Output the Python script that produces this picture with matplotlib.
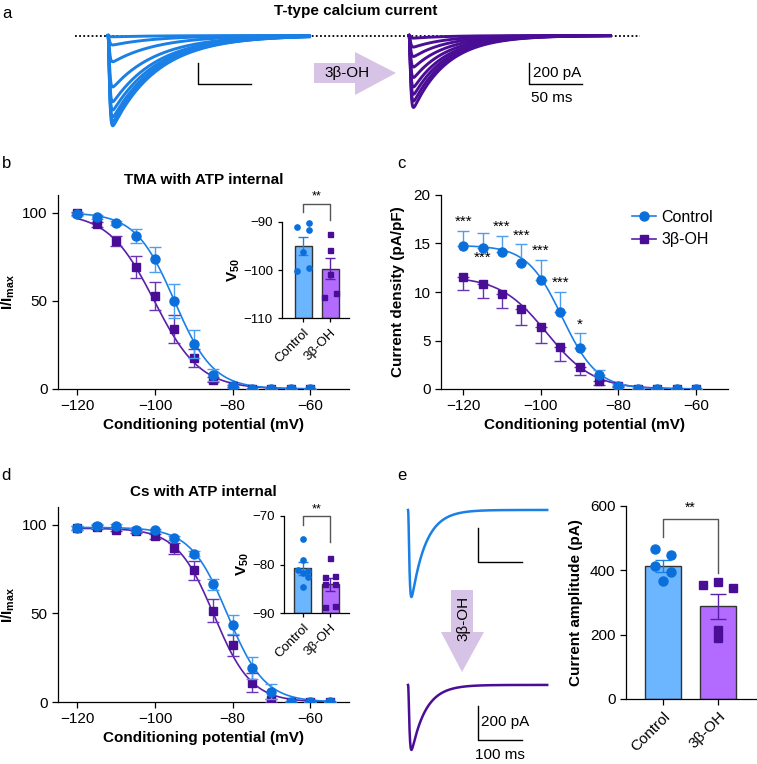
import numpy as np
import matplotlib
matplotlib.use('Agg')
import matplotlib.pyplot as plt
from matplotlib.patches import Polygon
from matplotlib.lines import Line2D

plt.rcParams['font.family'] = ['Liberation Sans', 'DejaVu Sans']
plt.rcParams['mathtext.fontset'] = 'custom'
plt.rcParams['mathtext.rm'] = 'Liberation Sans'
plt.rcParams['mathtext.bf'] = 'Liberation Sans:bold'
plt.rcParams['font.size'] = 11
plt.rcParams['axes.linewidth'] = 0.9

# ---------------- data ----------------
volts_b = [-120, -115, -110, -105, -100, -95, -90, -85, -80, -75, -70, -65, -60]
b_ctrl = [99, 97.5, 94.3, 86.7, 73.5, 50, 25.4, 8.1, 1.5, 0, 0, 0, 0]
b_ctrl_err = [1, 1, 1.2, 3.8, 7.2, 9.8, 8, 3.4, 1, 0, 0, 0, 0]
b_3b = [99.6, 93.4, 83.9, 69.1, 52.7, 34.1, 17.6, 5.3, 1.5, 0, 0, 0, 0]
b_3b_err = [1, 1.5, 2.8, 6.3, 8.1, 7.8, 5.1, 1.5, 0.5, 0, 0, 0, 0]
b_fit_ctrl = [100, -95.0, 5.0]     # top, V50, slope
b_fit_3b = [100, -100.2, 5.9]

b_v50_ctrl = [-91.0, -90.3, -91.7, -96.3, -100.2, -99.5]
b_v50_3b = [-92.4, -95.8, -100.9, -105.6, -104.7]
b_v50_mean = [-95.0, -99.7]
b_v50_sem = [1.85, 2.2]

volts_c = [-120, -115, -110, -105, -100, -95, -90, -85, -80, -75, -70, -65, -60]
c_ctrl = [14.75, 14.5, 14.1, 13.0, 11.2, 7.9, 4.2, 1.4, 0.3, 0, 0, 0, 0]
c_ctrl_err = [1.55, 1.6, 1.7, 1.9, 2.1, 2.15, 1.56, 0.6, 0.2, 0, 0, 0, 0]
c_3b = [11.5, 10.8, 9.8, 8.2, 6.4, 4.3, 2.3, 0.8, 0.3, 0, 0, 0, 0]
c_3b_err = [1.3, 1.4, 1.5, 1.6, 1.7, 1.4, 0.9, 0.4, 0.1, 0, 0, 0, 0]
c_fit_ctrl = [14.8, -94.5, 4.5]
c_fit_3b = [11.6, -98.5, 6.0]
c_stars = ['***', '***', '***', '***', '***', '***', '*']
c_star_below = [False, True, False, False, False, False, False]

volts_d = [-120, -115, -110, -105, -100, -95, -90, -85, -80, -75, -70, -65, -60, -55]
d_ctrl = [98.3, 99.2, 99.2, 97.3, 96.8, 92.6, 83.7, 66.4, 43.6, 19.0, 5.7, 0, 0, 0]
d_ctrl_err = [1, 1, 1, 1, 1, 1, 1.5, 3.2, 5.2, 6.2, 4.2, 0.5, 0, 0]
d_3b = [98.1, 98.7, 97.3, 96.2, 93.5, 86.7, 74.4, 51.6, 31.9, 10.8, 0.9, 0, 0, 0]
d_3b_err = [1, 1, 1, 1, 1.5, 3, 5.3, 6.3, 6, 5.3, 1, 0, 0, 0]
d_fit_ctrl = [98.5, -81.3, 4.8]
d_fit_3b = [98.0, -84.8, 4.8]

d_v50_ctrl = [-74.7, -79.1, -81.2, -81.4, -81.8, -82.5, -84.6]
d_v50_3b = [-78.6, -82.6, -82.3, -84.1, -84.1, -88.8, -88.5]
d_v50_mean = [-80.8, -84.1]
d_v50_sem = [1.3, 1.4]

e_ctrl = [465, 449, 415, 394, 366]
e_3b = [353, 363, 344, 213, 189]
e_mean = [413, 288]
e_sem = [18, 38]

groups = ['Control', '3β-OH']

# traces (peak amplitudes in pA, time constants in ms)
a_ctrl_amps = [12, 90, 250, 490, 630, 710, 775, 820, 860]
a_3b_amps = [25, 110, 200, 300, 400, 490, 560, 625, 685]
a_tau_m, a_tau_ctrl, a_tau_3b = 0.9, 43.0, 32.0
e_amp_ctrl, e_amp_3b = 512, 382
e_tau_m, e_tau_h = 2.0, 32.0

# ---------------- style ----------------
BLUE = '#0b6fdb'
BLUE_LN = '#1a80e6'
BLUE_ERR = '#4c9ef0'
PURP = '#4a0e96'
PURP_LN = '#5a1fa8'
PURP_ERR = '#6a35b5'
BAR_BLUE = '#6cb6ff'
BAR_PURP = '#b36bff'
ARROW = '#d6c3e6'

W, H = 757, 764
fig = plt.figure(figsize=(W / 100, H / 100), dpi=100)


def fx(x):
    return x / W


def fy(y):
    return 1 - y / H


def box(l, t, r, b):
    return [fx(l), fy(b), (r - l) / W, (b - t) / H]


def boltz(v, top, v50, k):
    return top / (1 + np.exp((v - v50) / k))


def ttype(t, amp, tau_m, tau_h):
    g = (1 - np.exp(-t / tau_m)) ** 3 * np.exp(-t / tau_h)
    return -amp * g / g.max()


def style(ax):
    for s in ['top', 'right']:
        ax.spines[s].set_visible(False)
    ax.tick_params(direction='out', length=4, width=0.9)


def curve_panel(ax, v, ctrl, cerr, trt, terr, fc, ft, one_sided=False):
    vv = np.linspace(-120, v[-1], 300)
    ax.plot(vv, boltz(vv, *ft), color=PURP_LN, lw=1.2, zorder=2)
    ax.plot(vv, boltz(vv, *fc), color=BLUE_LN, lw=1.2, zorder=3)
    cerr = np.array(cerr)
    terr = np.array(terr)
    if one_sided:
        tey = [terr, np.zeros_like(terr)]
        cey = [np.zeros_like(cerr), cerr]
    else:
        tey, cey = terr, cerr
    ax.errorbar(v, trt, yerr=tey, fmt='s', color=PURP, ecolor=PURP_ERR,
                ms=5.5, capsize=4, elinewidth=1, capthick=1, zorder=4)
    ax.errorbar(v, ctrl, yerr=cey, fmt='o', color=BLUE, ecolor=BLUE_ERR,
                ms=6.5, capsize=4, elinewidth=1, capthick=1, zorder=5)
    ax.set_xlim(-125, -50)
    ax.set_xticks([-120, -100, -80, -60])
    ax.set_xlabel('Conditioning potential (mV)', fontweight='bold', labelpad=3)
    style(ax)


def v50_inset(ax, ctrl, trt, mean, sem, ylim, yticks, offs_c, offs_t):
    ax.bar([0, 1], [m - ylim[0] for m in mean], bottom=ylim[0], width=0.63,
           color=[BAR_BLUE, BAR_PURP], edgecolor='#333333', lw=1, zorder=2)
    ax.errorbar([0], [mean[0]], yerr=[sem[0]], color=BLUE_LN, capsize=3.5,
                lw=1, zorder=3)
    ax.errorbar([1], [mean[1]], yerr=[sem[1]], color=PURP_LN, capsize=3.5,
                lw=1, zorder=3)
    ax.plot(np.array(offs_c), ctrl, 'o', color=BLUE, ms=3.8, zorder=4, clip_on=False)
    ax.plot(1 + np.array(offs_t), trt, 's', color=PURP, ms=3.6, zorder=4, clip_on=False)
    ax.set_ylim(*ylim)
    ax.set_yticks(yticks)
    ax.set_xlim(-0.78, 1.7)
    ax.set_xticks([0, 1])
    ax.set_xticklabels(groups, rotation=45, ha='right', rotation_mode='anchor',
                       fontsize=9.5)
    ax.set_ylabel(r'$\mathbf{V_{50}}$', fontsize=11, labelpad=1)
    style(ax)
    ax.tick_params(labelsize=9.5, length=3)


# ---------------- panel a ----------------
axa = fig.add_axes([0, fy(140), 1, 120 / H])
axa.axis('off')
axa.set_xlim(-101.9, 612.3)
axa.set_ylim(-994.8, 147.6)
t = np.linspace(0, 190, 800)
axa.plot([-31, 502], [0, 0], color='k', lw=1.3, linestyle=(0, (1, 1.3)), zorder=1)
for amp in a_ctrl_amps:
    axa.plot(t, ttype(t, amp, a_tau_m, a_tau_ctrl), color=BLUE_LN, lw=2.1, zorder=2)
for amp in a_3b_amps:
    axa.plot(284 + t, ttype(t, amp, a_tau_m, a_tau_3b), color=PURP, lw=2.1, zorder=2)
axa.plot([85, 85, 135], [-262, -462, -462], color='k', lw=1)
axa.plot([397, 397, 447], [-262, -462, -462], color='k', lw=1)
axa.text(401, -357, '200 pA', va='center', ha='left')
axa.text(399, -595, '50 ms', va='center', ha='left')

arrow_a = [(314, 63), (355, 63), (355, 52), (396, 73), (355, 95), (355, 83), (314, 83)]
fig.patches.append(Polygon([(fx(x), fy(y)) for x, y in arrow_a], closed=True,
                           transform=fig.transFigure, color=ARROW, lw=0))
fig.text(fx(347), fy(73), '3β-OH', ha='center', va='center')
fig.text(fx(356), fy(11), 'T-type calcium current', ha='center', va='center',
         fontweight='bold')

# ---------------- panel b ----------------
axb = fig.add_axes(box(58, 195, 349, 389))
curve_panel(axb, volts_b, b_ctrl, b_ctrl_err, b_3b, b_3b_err, b_fit_ctrl, b_fit_3b)
axb.set_ylim(0, 110)
axb.set_yticks([0, 50, 100])
axb.set_ylabel(r'$\mathbf{I/I_{max}}$', labelpad=4)
axb.set_title('TMA with ATP internal', fontweight='bold', fontsize=11, pad=8)

axib = fig.add_axes(box(282, 222, 349, 318))
v50_inset(axib, b_v50_ctrl, b_v50_3b, b_v50_mean, b_v50_sem, (-110, -90),
          [-110, -100, -90], [-0.22, 0.22, 0.22, 0, -0.22, 0.22],
          [0, 0, 0, -0.22, 0.22])
axib.plot([0, 0, 1, 1], [-87.85, -86.25, -86.25, -89.6], color='#555555', lw=1,
          clip_on=False)
axib.text(0.5, -86.0, '**', ha='center', va='bottom', fontsize=9)

# ---------------- panel c ----------------
axc = fig.add_axes(box(441, 195, 728, 389))
curve_panel(axc, volts_c, c_ctrl, c_ctrl_err, c_3b, c_3b_err, c_fit_ctrl, c_fit_3b,
            one_sided=True)
axc.set_xlim(-125.7, -51.8)
axc.set_ylim(0, 20)
axc.set_yticks([0, 5, 10, 15, 20])
axc.set_ylabel('Current density (pA/pF)', fontweight='bold', labelpad=6)
for i, s in enumerate(c_stars):
    if c_star_below[i]:
        ys = c_ctrl[i] - 1.0
    else:
        ys = c_ctrl[i] + c_ctrl_err[i] + 0.9
    axc.text(volts_c[i], ys, s, ha='center', va='center', fontsize=11)
hc = Line2D([], [], color=BLUE_LN, marker='o', mfc=BLUE, mec=BLUE, ms=6.5, lw=1.2)
ht = Line2D([], [], color=PURP_LN, marker='s', mfc=PURP, mec=PURP, ms=5.5, lw=1.2)
axc.legend([hc, ht], groups, loc='upper left', frameon=False, fontsize=11.5,
           bbox_to_anchor=(fx(624), fy(202)), bbox_transform=fig.transFigure,
           handlelength=1.5, handletextpad=0.35, labelspacing=0.45, borderpad=0)

# ---------------- panel d ----------------
axd = fig.add_axes(box(58, 507, 349, 702))
curve_panel(axd, volts_d, d_ctrl, d_ctrl_err, d_3b, d_3b_err, d_fit_ctrl, d_fit_3b)
axd.set_ylim(0, 110)
axd.set_yticks([0, 50, 100])
axd.set_ylabel(r'$\mathbf{I/I_{max}}$', labelpad=4)
axd.set_title('Cs with ATP internal', fontweight='bold', fontsize=11, pad=8)

axid = fig.add_axes(box(284, 516, 349, 613))
v50_inset(axid, d_v50_ctrl, d_v50_3b, d_v50_mean, d_v50_sem, (-90, -70),
          [-90, -80, -70], [0, 0, -0.2, 0.2, 0, 0.2, 0],
          [0, -0.2, 0.2, -0.2, 0.2, -0.2, 0.2])
axid.set_xlim(-0.7, 1.7)
axid.plot([0, 0, 1, 1], [-71.9, -70, -70, -75.3], color='#555555', lw=1,
          clip_on=False)
axid.text(0.5, -69.8, '**', ha='center', va='bottom', fontsize=9)

# ---------------- panel e ----------------
axet = fig.add_axes(box(395, 495, 560, 764))
axet.axis('off')
axet.set_xlim(0, 374.6)
axet.set_ylim(-1494, 88)
te = np.linspace(0, 316, 800)
axet.plot(29.5 + te, ttype(te, e_amp_ctrl, e_tau_m, e_tau_h), color=BLUE_LN, lw=1.8)
axet.plot(29.5 + te, -1029 + ttype(te, e_amp_3b, e_tau_m, e_tau_h), color=PURP, lw=1.8)
axet.plot([188, 188, 288], [-106, -306, -306], color='k', lw=1)
axet.plot([188, 188, 288], [-1152, -1352, -1352], color='k', lw=1)
axet.text(195, -1247, '200 pA', va='center', ha='left')
axet.text(182, -1441, '100 ms', va='center', ha='left')

arrow_e = [(451, 590), (473, 590), (473, 632), (484, 632), (462, 672), (441, 632), (451, 632)]
fig.patches.append(Polygon([(fx(x), fy(y)) for x, y in arrow_e], closed=True,
                           transform=fig.transFigure, color=ARROW, lw=0))
fig.text(fx(463), fy(618), '3β-OH', ha='center', va='center', rotation=90)

axe = fig.add_axes(box(626, 506, 756, 699))
axe.bar([0, 1], e_mean, width=0.64, color=[BAR_BLUE, BAR_PURP],
        edgecolor='#333333', lw=1, zorder=2)
axe.errorbar([0], [e_mean[0]], yerr=[e_sem[0]], color=BLUE_LN, capsize=6, lw=1, zorder=3)
axe.errorbar([1], [e_mean[1]], yerr=[e_sem[1]], color=PURP_LN, capsize=6, lw=1, zorder=3)
axe.plot(np.array([-0.15, 0.15, -0.15, 0.15, 0]), e_ctrl, 'o', color=BLUE, ms=6.5, zorder=4)
axe.plot(1 + np.array([-0.27, 0, 0.27, 0, 0]), e_3b, 's', color=PURP, ms=6, zorder=4)
axe.plot([0, 0, 1, 1], [505, 560, 560, 391], color='#555555', lw=1, zorder=1)
axe.text(0.5, 572, '**', ha='center', va='bottom', fontsize=10)
axe.set_xlim(-0.67, 1.69)
axe.set_ylim(0, 600)
axe.set_yticks([0, 200, 400, 600])
axe.set_xticks([0, 1])
axe.set_xticklabels(groups, rotation=45, ha='right', rotation_mode='anchor')
axe.set_ylabel('Current amplitude (pA)', fontweight='bold', labelpad=5)
style(axe)

# panel letters
for lab, x, y in [('a', 2, 13), ('b', 2, 163), ('c', 397, 163), ('d', 1, 475), ('e', 397, 475)]:
    fig.text(fx(x), fy(y), lab, ha='left', va='center', fontsize=12)

fig.savefig('out.png', dpi=100)
